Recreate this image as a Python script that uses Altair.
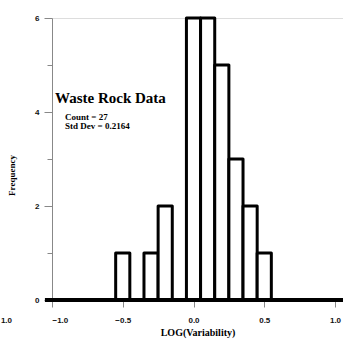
import altair as alt
import pandas as pd

# histogram bins (centre of bin) and frequencies
bin_centers = [-0.5, -0.4, -0.3, -0.2, -0.1, 0.0, 0.1, 0.2, 0.3, 0.4, 0.5]
frequencies = [1, 0, 1, 2, 0, 6, 6, 5, 3, 2, 1]
bin_width = 0.1

x_ticks = [-1.0, -0.75, -0.5, -0.25, 0.0, 0.25, 0.5, 0.75, 1.0]
y_ticks = [0, 1, 2, 3, 4, 5, 6]

df = pd.DataFrame({"center": bin_centers, "freq": frequencies})
df["start"] = df["center"] - bin_width / 2
df["end"] = df["center"] + bin_width / 2
df = df[df["freq"] > 0]

base_df = pd.DataFrame({"x": [-1.05], "x2": [1.08], "y": [0]})

xscale = alt.Scale(domain=[-1.0, 1.0565], nice=False, zero=False)
yscale = alt.Scale(domain=[0, 6], nice=False)

x_axis = alt.Axis(
    values=x_ticks,
    labelExpr="abs(datum.value*2 - round(datum.value*2)) < 0.01 ? format(datum.value, '.1f') : ''",
    domain=False, grid=False,
    tickColor="#888", tickWidth=1, tickSize=7, tickOffset=0,
    labelFont="Liberation Sans", labelFontSize=8, labelFontWeight="bold", labelColor="#111",
    labelPadding=9,
    title="LOG(Variability)", titleFont="Liberation Serif", titleFontSize=10,
    titleFontWeight="bold", titleColor="#000", titlePadding=3,
)

y_axis = alt.Axis(
    values=y_ticks,
    labelExpr="datum.value % 2 === 0 ? datum.value : ''",
    domain=True, domainColor="#888", domainWidth=1, grid=False,
    tickColor="#888", tickWidth=1,
    tickSize={"condition": {"test": "datum.value % 2 === 1", "value": 5}, "value": 8},
    labelFont="Liberation Sans", labelFontSize=8, labelFontWeight="bold", labelColor="#111",
    labelPadding=5,
    title="Frequency", titleFont="Liberation Serif", titleFontSize=9,
    titleFontWeight="bold", titleColor="#000", titleX=-36, titleY=157, titleAngle=270,
)

bars = alt.Chart(df).mark_bar(
    fill="white", stroke="black", strokeWidth=3, strokeJoin="round", clip=False
).encode(
    x=alt.X("start:Q", scale=xscale, axis=x_axis),
    x2="end:Q",
    y=alt.Y("freq:Q", scale=yscale, axis=y_axis),
    y2=alt.datum(0),
)

baseline = alt.Chart(base_df).mark_rule(
    color="black", strokeWidth=4, clip=False
).encode(
    x=alt.X("x:Q", scale=xscale), x2="x2:Q", y=alt.Y("y:Q", scale=yscale)
)

title = alt.Chart(pd.DataFrame({"t": ["Waste Rock Data"]})).mark_text(
    align="left", baseline="alphabetic", font="Liberation Serif", fontSize=15,
    fontWeight="bold", color="black"
).encode(x=alt.value(3), y=alt.value(85), text="t:N")

stats = alt.Chart(pd.DataFrame({"t": ["Count = 27", "Std Dev = 0.2164"], "yy": [102, 111]})).mark_text(
    align="left", baseline="alphabetic", font="Liberation Serif", fontSize=9,
    fontWeight="bold", color="black"
).encode(x=alt.value(13), y=alt.Y("yy:Q", scale=None), text="t:N")

stray = alt.Chart(pd.DataFrame({"t": ["1.0"]})).mark_text(
    align="right", baseline="alphabetic", font="Liberation Sans", fontSize=8,
    fontWeight="bold", color="#111"
).encode(x=alt.value(-40), y=alt.value(305), text="t:N")

chart = alt.layer(bars, baseline, title, stats, stray).properties(
    width=291, height=282,
    padding={"left": 52, "top": 18, "right": 0, "bottom": 41},
    autosize=alt.AutoSizeParams(type="none"),
).configure_view(stroke=None).configure(background="white")

chart.save("out.html", embed_options={"renderer": "svg", "actions": False})
